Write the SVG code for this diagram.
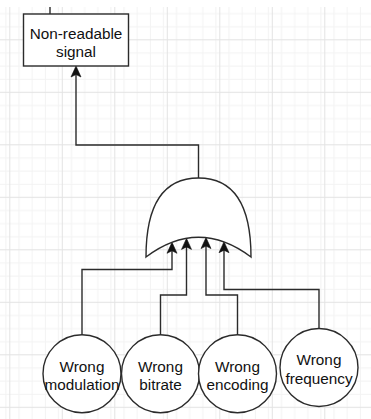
<svg xmlns="http://www.w3.org/2000/svg" width="371" height="419" viewBox="0 0 371 419">
  <style>
    .shape { fill: #ffffff; stroke: #2b2b2b; stroke-width: 1.4; }
    .edge { fill: none; stroke: #2b2b2b; stroke-width: 1.4; }
    .label { font-family: "Liberation Sans", Arial, sans-serif; font-size: 15.3px; fill: #111111; text-anchor: middle; }
  </style>
  <defs>
    <!-- background grid: minor lines every 13.125, major every 52.5 -->
    <pattern id="minor" width="13.125" height="13.125" patternUnits="userSpaceOnUse" x="9.3" y="0.15">
      <path d="M0,0.5 H13.125 M0.5,0 V13.125" fill="none" stroke="#f2f2f2" stroke-width="1"/>
    </pattern>
    <pattern id="major" width="52.5" height="52.5" patternUnits="userSpaceOnUse" x="9.3" y="-13.2">
      <rect width="52.5" height="52.5" fill="url(#minor)"/>
      <path d="M0,0.5 H52.5 M0.5,0 V52.5" fill="none" stroke="#e3e3e3" stroke-width="1"/>
    </pattern>
    <!-- filled classic arrowhead; tip sits 2px past the path end -->
    <marker id="arrow" viewBox="-10 -6 13 12" refX="0" refY="0" markerWidth="13" markerHeight="12" markerUnits="userSpaceOnUse" orient="auto">
      <path d="M2,0 L-9,-5 L-6.5,0 L-9,5 Z" fill="#111111" stroke="#111111" stroke-width="0.6" stroke-linejoin="miter"/>
    </marker>
  </defs>

  <rect width="371" height="419" fill="#ffffff"/>
  <rect x="0" y="7" width="371" height="412" fill="url(#major)"/>

  <g id="connectors">
    <path class="edge" d="M50,7 V14"/>
    <path class="edge" d="M198.5,178 V145 H76 V68" marker-end="url(#arrow)"/>
    <path class="edge" d="M82,334.7 V269.5 H172 V244.3" marker-end="url(#arrow)"/>
    <path class="edge" d="M160.5,334.7 V295 H186.5 V240.4" marker-end="url(#arrow)"/>
    <path class="edge" d="M237.5,334.7 V295 H206 V239.6" marker-end="url(#arrow)"/>
    <path class="edge" d="M319,328.5 V289.5 H224 V243.7" marker-end="url(#arrow)"/>
  </g>

  <g id="non-readable-signal">
    <rect class="shape" x="23.5" y="14" width="105" height="52"/>
    <text class="label" x="76" y="39">Non-readable</text>
    <text class="label" x="76" y="57">signal</text>
  </g>

  <g id="or-gate">
    <path class="shape" d="M146,257 Q146,178 198.5,178 Q251,178 251,257 Q198.5,217.5 146,257 Z"/>
  </g>

  <g id="wrong-modulation">
    <circle class="shape" cx="82" cy="373.7" r="39"/>
    <text class="label" x="82" y="371.5">Wrong</text>
    <text class="label" x="82" y="390">modulation</text>
  </g>

  <g id="wrong-bitrate">
    <circle class="shape" cx="160.5" cy="373.7" r="39"/>
    <text class="label" x="160.5" y="371.5">Wrong</text>
    <text class="label" x="160.5" y="390">bitrate</text>
  </g>

  <g id="wrong-encoding">
    <circle class="shape" cx="237.5" cy="373.7" r="39"/>
    <text class="label" x="237.5" y="371.5">Wrong</text>
    <text class="label" x="237.5" y="390">encoding</text>
  </g>

  <g id="wrong-frequency">
    <circle class="shape" cx="319" cy="367.5" r="39"/>
    <text class="label" x="319" y="365.3">Wrong</text>
    <text class="label" x="319" y="383.8">frequency</text>
  </g>
</svg>
